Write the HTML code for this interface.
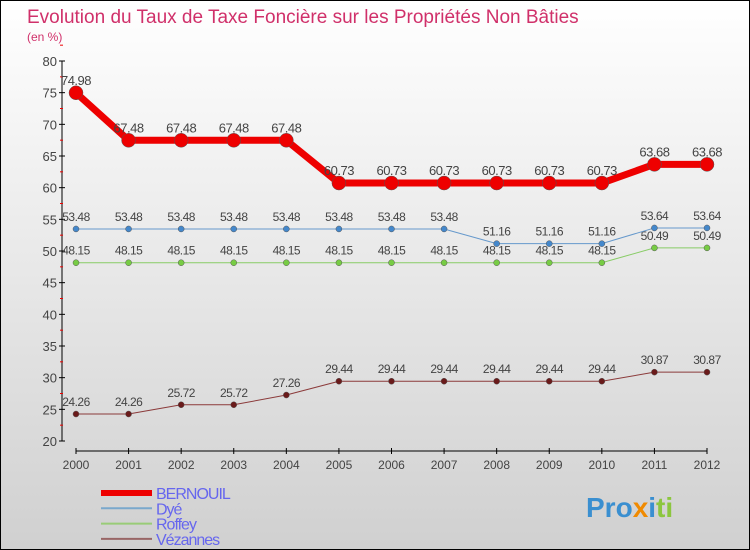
<!DOCTYPE html>
<html><head><meta charset="utf-8"><style>
body{margin:0}
#c{width:750px;height:550px;position:relative;background:linear-gradient(#ffffff,#d0d0d0);box-sizing:border-box;border:1px solid #000;font-family:"Liberation Sans","DejaVu Sans",sans-serif;overflow:hidden}
</style></head><body>
<div id="c">
<svg id="s" width="750" height="550" style="position:absolute;left:0;top:0">
<text x="26" y="22" font-size="19" fill="#d0306a">Evolution du Taux de Taxe Foncière sur les Propriétés Non Bâties</text>
<text x="26" y="40" font-size="12" fill="#d0306a">(en %)</text>
<text x="585" y="516" font-size="28" font-weight="bold"><tspan fill="#3a8fd0">Pro</tspan><tspan fill="#f08a00">x</tspan><tspan fill="#3a8fd0">i</tspan><tspan fill="#8cc63f">ti</tspan></text>
</svg>
</div>
<script>
const years=[2000,2001,2002,2003,2004,2005,2006,2007,2008,2009,2010,2011,2012];
const bernouil=[74.98,67.48,67.48,67.48,67.48,60.73,60.73,60.73,60.73,60.73,60.73,63.68,63.68];
const dye=[53.48,53.48,53.48,53.48,53.48,53.48,53.48,53.48,51.16,51.16,51.16,53.64,53.64];
const roffey=[48.15,48.15,48.15,48.15,48.15,48.15,48.15,48.15,48.15,48.15,48.15,50.49,50.49];
const vezannes=[24.26,24.26,25.72,25.72,27.26,29.44,29.44,29.44,29.44,29.44,29.44,30.87,30.87];
const yTicks=[20,25,30,35,40,45,50,55,60,65,70,75,80];
const ns="http://www.w3.org/2000/svg",s=document.getElementById('s');
const X=i=>75+i*(706-75)/(years.length-1);
const Y=v=>440-(v-20)*(380/60);
function mk(t,a,p){const e=document.createElementNS(ns,t);for(const k in a)e.setAttribute(k,a[k]);(p||s).appendChild(e);return e;}
// axes
let ya=mk('line',{x1:61,y1:60,x2:61,y2:440,stroke:'#000'});


yTicks.forEach(v=>{mk('line',{x1:58,x2:64,y1:Y(v),y2:Y(v),stroke:'#000'});
 mk('line',{x1:59,x2:62,y1:Y(v+2.5),y2:Y(v+2.5),stroke:'#e00'});
 const t=mk('text',{x:56,y:Y(v)+5,'text-anchor':'end','font-size':13,fill:'#444'});t.textContent=v;
 
 });
let xa=mk('line',{x1:75,y1:450,x2:706,y2:450,stroke:'#000'});


years.forEach((y,i)=>{mk('line',{x1:X(i),x2:X(i),y1:447,y2:453,stroke:'#000'});
 const t=mk('text',{x:X(i),y:468,'text-anchor':'middle','font-size':12,fill:'#444'});t.textContent=y;
 
 });
function series(name,data,col,w,r,dot,fs){
 const g=mk('g',{});
 
 
 mk('polyline',{points:data.map((v,i)=>X(i)+','+Y(v)).join(' '),fill:'none',stroke:col,'stroke-width':w,'stroke-linejoin':'round'},g);
 data.forEach((v,i)=>{const c=mk('circle',{cx:X(i),cy:Y(v),r:r,fill:dot,stroke:'#555','stroke-width':0.5},g);
  
  
  const t=mk('text',{x:X(i),y:Y(v)-8,'text-anchor':'middle','font-size':fs,fill:'#444','letter-spacing':'-0.5'},g);t.textContent=v.toFixed(2);
  
  });
}
series('vezannes',vezannes,'#8b3a3a',1,3,'#6a1a1a',12);
series('roffey',roffey,'#88cc66',1,3,'#77cc44',12);
series('dye',dye,'#6699cc',1,3,'#4488cc',12);
series('bernouil',bernouil,'#ee0000',7,7,'#ee0000',13);
// legend
const leg=[['BERNOUIL','#ee0000',6],['Dyé','#7aa8cc',2],['Roffey','#99cc77',2],['Vézannes','#996666',2]];
leg.forEach((l,i)=>{const y=492+i*15.3;
 const g=mk('g',{});
 
 
 mk('line',{x1:100,x2:151,y1:y,y2:y,stroke:l[1],'stroke-width':l[2]},g);
 const t=mk('text',{x:155,y:y+6,'font-size':16,fill:'#6666ee','letter-spacing':'-1'},g);t.textContent=l[0];});
</script>
</body></html>
